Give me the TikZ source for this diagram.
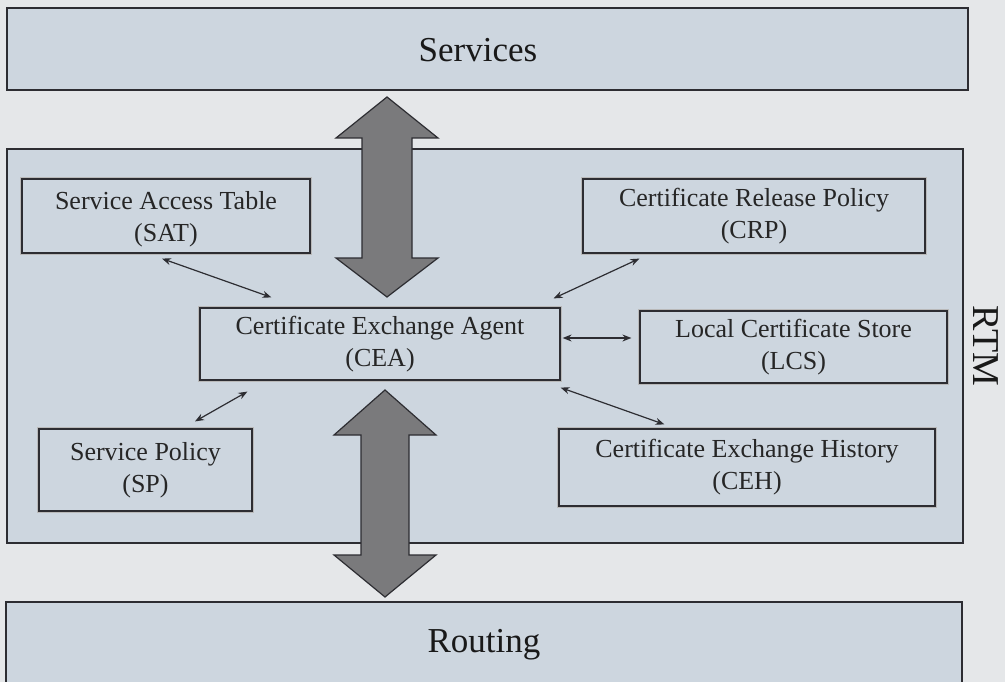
\documentclass[tikz,border=0pt]{standalone}
\usepackage{fontspec}
\setmainfont{Liberation Serif}
\usetikzlibrary{arrows.meta,calc}
\definecolor{pagebg}{RGB}{229,231,233}
\definecolor{boxfill}{RGB}{205,214,223}
\definecolor{edge}{RGB}{45,45,50}
\definecolor{bigarrow}{RGB}{122,122,124}
\tikzset{
  layer/.style={draw=edge, line width=1.3pt, fill=boxfill},
  ibox/.style={draw=edge, line width=1.2pt, fill=boxfill, align=center,
    preaction={draw=gray!55, line width=3.6pt},
    inner sep=0pt, font=\fontsize{26}{32}\selectfont, text=black!85},
  bigtxt/.style={font=\fontsize{35}{40}\selectfont, text=black!90},
  link/.style={edge, line width=1.2pt, {Stealth[length=9pt,width=7pt]}-{Stealth[length=9pt,width=7pt]}},
  fat/.style={draw=edge, line width=1.2pt, fill=bigarrow, line join=miter}
}
\begin{document}
\begin{tikzpicture}[x=1pt,y=-1pt]
\useasboundingbox (0,0) rectangle (1005,682);
\clip (0,0) rectangle (1005,682);
\fill[pagebg] (0,0) rectangle (1005,682);

% layers
\draw[layer] (7,8) rectangle (968,90);
\node[bigtxt] (services) at (478,50) {Services};
\draw[layer] (7,149) rectangle (963,543);
\node[bigtxt, rotate=-90, font=\fontsize{38}{40}\selectfont] (rtm) at (986,346) {RTM};
\draw[layer] (6,602) rectangle (962,700);
\node[bigtxt] (routing) at (484,645) {Routing};

% big double arrows
\draw[fat] (387,97) -- (438,138) -- (412,138) -- (412,258) -- (438,258) -- (387,297)
  -- (336,258) -- (362,258) -- (362,138) -- (336,138) -- cycle;
\draw[fat] (385,390) -- (436,435) -- (409,435) -- (409,555) -- (436,555) -- (385,597)
  -- (334,555) -- (361,555) -- (361,435) -- (334,435) -- cycle;

% components
\node[ibox, minimum width=288pt, minimum height=74pt, text depth=0pt] (sat) at (166,216) {Service Access Table\\(SAT)};
\node[ibox, minimum width=342pt, minimum height=74pt] (crp) at (754,216) {Certificate Release Policy\\(CRP)};
\node[ibox, minimum width=360pt, minimum height=72pt] (cea) at (380,344) {Certificate Exchange Agent\\(CEA)};
\node[ibox, minimum width=307pt, minimum height=72pt] (lcs) at (793.5,347) {Local Certificate Store\\(LCS)};
\node[ibox, minimum width=213pt, minimum height=82pt] (sp) at (145.5,470) {Service Policy\\(SP)};
\node[ibox, minimum width=376pt, minimum height=77pt] (ceh) at (747,467.5) {Certificate Exchange History\\(CEH)};

% connectors
\draw[link] ([shift={(-4,5)}]sat.south) -- ([shift={(72,-10)}]cea.north west);
\draw[link] ([shift={(57,5)}]crp.south west) -- ([shift={(-7,-9)}]cea.north east);
\draw[link] ([shift={(2,-6)}]cea.east) -- ([shift={(-8,-9)}]lcs.west);
\draw[link] ([shift={(0,7)}]cea.south east) -- ([shift={(106,-4)}]ceh.north west);
\draw[link] ([shift={(49.5,-7)}]sp.north) -- ([shift={(48,11)}]cea.south west);
\end{tikzpicture}
\end{document}
